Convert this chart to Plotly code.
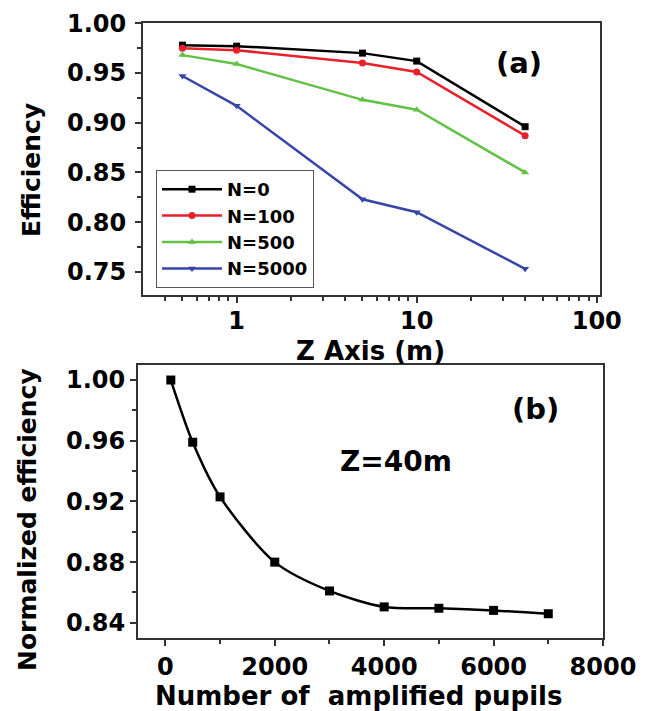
import plotly.graph_objects as go

# ---- data ----
z_axis_m = [0.5, 1, 5, 10, 40]
eff_n0 = [0.978, 0.977, 0.970, 0.962, 0.896]
eff_n100 = [0.975, 0.973, 0.960, 0.951, 0.887]
eff_n500 = [0.968, 0.959, 0.923, 0.913, 0.850]
eff_n5000 = [0.947, 0.917, 0.823, 0.810, 0.753]
series_names = ["N=0", "N=100", "N=500", "N=5000"]

pupils = [100, 500, 1000, 2000, 3000, 4000, 5000, 6000, 7000]
norm_eff = [1.000, 0.959, 0.923, 0.880, 0.861, 0.8505, 0.8496, 0.8482, 0.846]

W, H = 645, 711
FONT = "DejaVu Sans"

def px_x(x):
    return x / W

def px_y(y):
    return 1 - y / H

fig = go.Figure()

colors = ["#000000", "#e8202a", "#62c146", "#3646a8"]
symbols = ["square", "circle", "triangle-up", "triangle-down"]
for name, vals, c, s in zip(series_names, [eff_n0, eff_n100, eff_n500, eff_n5000], colors, symbols):
    fig.add_trace(go.Scatter(
        x=z_axis_m, y=vals, name=name, mode="lines+markers",
        line=dict(color=c, width=2.5),
        marker=dict(symbol=s, size=7, color=c),
        xaxis="x", yaxis="y",
    ))

fig.add_trace(go.Scatter(
    x=pupils, y=norm_eff, mode="lines+markers", showlegend=False,
    line=dict(color="black", width=2.5, shape="spline", smoothing=0.8),
    marker=dict(symbol="square", size=9, color="black"),
    xaxis="x2", yaxis="y2",
))

tickfont = dict(family=FONT, size=24, color="black", weight="bold")
axis_common = dict(showline=True, linecolor="#333333", linewidth=2, mirror=True,
                   ticks="outside", ticklen=6, tickwidth=1.5, tickcolor="#333333",
                   showgrid=False, zeroline=False, tickfont=tickfont, automargin=False)

minor_log = [0.3, 0.4, 0.5, 0.6, 0.7, 0.8, 0.9, 2, 3, 4, 5, 6, 7, 8, 9,
             20, 30, 40, 50, 60, 70, 80, 90]

fig.update_layout(
    width=W, height=H,
    margin=dict(l=0, r=0, t=0, b=0, pad=0, autoexpand=False),
    paper_bgcolor="white", plot_bgcolor="white",
    xaxis=dict(type="log", domain=[px_x(143), px_x(600)], range=[-0.52, 2.018],
               tickvals=[1, 10, 100], ticktext=["1", "10", "100"],
               minor=dict(tickvals=minor_log, ticks="outside", ticklen=4, tickcolor="#333333"),
               ticklabelstandoff=-3,
               anchor="y", **axis_common),
    yaxis=dict(domain=[px_y(295), px_y(23)], range=[0.7267, 1.0003],
               tickvals=[0.75, 0.80, 0.85, 0.90, 0.95, 1.00],
               ticktext=["0.75", "0.80", "0.85", "0.90", "0.95", "1.00"],
               minor=dict(dtick=0.025, ticks="outside", ticklen=4, tickcolor="#333333"),
               ticklabelstandoff=4,
               anchor="x", **axis_common),
    xaxis2=dict(domain=[px_x(138), px_x(603)], range=[-500, 8000],
                tickvals=[0, 2000, 4000, 6000, 8000],
                minor=dict(dtick=1000, ticks="outside", ticklen=4, tickcolor="#333333"),
                ticklabelstandoff=0,
                anchor="y2", **axis_common),
    yaxis2=dict(domain=[px_y(638), px_y(365)], range=[0.830, 1.0099],
                tickvals=[0.84, 0.88, 0.92, 0.96, 1.00],
                ticktext=["0.84", "0.88", "0.92", "0.96", "1.00"],
                minor=dict(dtick=0.02, ticks="outside", ticklen=4, tickcolor="#333333"),
                anchor="x2", **axis_common),
    legend=dict(x=px_x(156), y=px_y(170), xanchor="left", yanchor="top",
                bgcolor="white", bordercolor="#555555", borderwidth=1,
                font=dict(family=FONT, size=18, color="black", weight="bold"),
                tracegroupgap=0, itemwidth=60),
    showlegend=True,
)

ann = [
    dict(text="(a)", x=px_x(519), y=px_y(63), font=dict(family=FONT, size=29, weight="bold")),
    dict(text="(b)", x=px_x(535), y=px_y(409), font=dict(family=FONT, size=29, weight="bold")),
    dict(text="Z=40m", x=px_x(396), y=px_y(461), font=dict(family=FONT, size=28, weight="bold")),
    dict(text="Z Axis (m)", x=px_x(370), y=px_y(351), font=dict(family=FONT, size=26, weight="bold")),
    dict(text="Number of  amplified pupils", x=px_x(358), y=px_y(696), font=dict(family=FONT, size=26, weight="bold")),
    dict(text="Efficiency", x=px_x(31), y=px_y(170), textangle=-90, font=dict(family=FONT, size=25, weight="bold")),
    dict(text="Normalized efficiency", x=px_x(27), y=px_y(520), textangle=-90, font=dict(family=FONT, size=25, weight="bold")),
]
for a in ann:
    a.update(xref="paper", yref="paper", showarrow=False, xanchor="center", yanchor="middle")
    a["font"].setdefault("color", "black")
fig.update_layout(annotations=ann)

fig.write_html("out.html")
